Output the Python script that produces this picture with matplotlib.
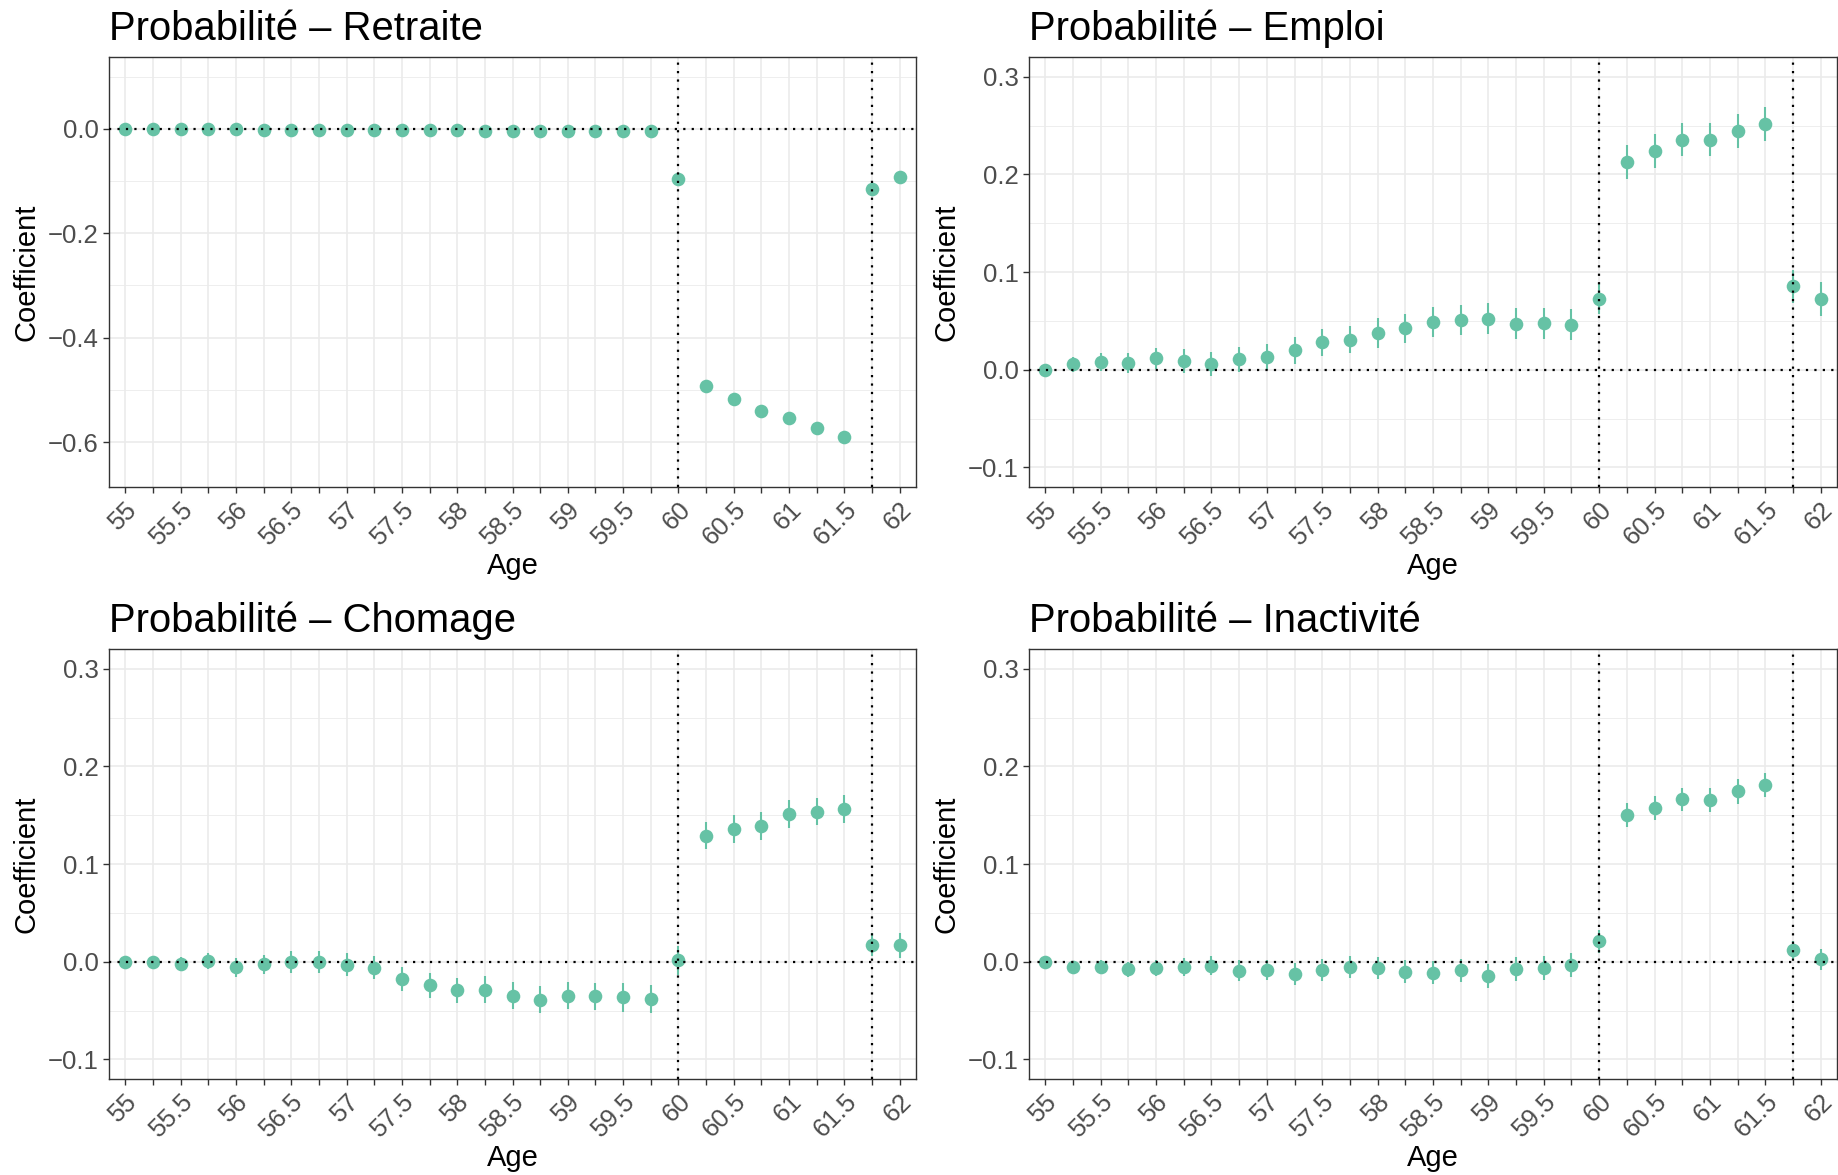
import matplotlib
matplotlib.use("Agg")
import matplotlib.pyplot as plt
import numpy as np

plt.rcParams['font.family'] = ['Liberation Sans', 'DejaVu Sans']

# ---------------- data ----------------
ages = [55.0, 55.25, 55.5, 55.75, 56.0, 56.25, 56.5, 56.75, 57.0, 57.25,
        57.5, 57.75, 58.0, 58.25, 58.5, 58.75, 59.0, 59.25, 59.5, 59.75,
        60.0, 60.25, 60.5, 60.75, 61.0, 61.25, 61.5, 61.75, 62.0]
age_labels = ["55", "", "55.5", "", "56", "", "56.5", "", "57", "", "57.5", "",
              "58", "", "58.5", "", "59", "", "59.5", "", "60", "", "60.5", "",
              "61", "", "61.5", "", "62"]

titles = ["Probabilité – Retraite", "Probabilité – Emploi",
          "Probabilité – Chomage", "Probabilité – Inactivité"]

retraite = [0.0, -0.001, -0.001, -0.001, -0.001, -0.002, -0.002, -0.002, -0.002, -0.002,
            -0.003, -0.003, -0.003, -0.004, -0.004, -0.004, -0.004, -0.004, -0.004, -0.004,
            -0.096, -0.492, -0.518, -0.540, -0.553, -0.573, -0.590, -0.116, -0.092]
retraite_err = [0.0, 0.002, 0.002, 0.002, 0.002, 0.002, 0.002, 0.002, 0.002, 0.002,
                0.002, 0.002, 0.002, 0.002, 0.002, 0.002, 0.002, 0.002, 0.002, 0.002,
                0.005, 0.005, 0.005, 0.005, 0.005, 0.005, 0.005, 0.005, 0.005]

emploi = [0.000, 0.0055, 0.0078, 0.0072, 0.0116, 0.0092, 0.0058, 0.0106, 0.013, 0.020,
          0.028, 0.031, 0.0378, 0.0425, 0.049, 0.051, 0.0525, 0.0472, 0.0476, 0.0461,
          0.073, 0.2128, 0.224, 0.2355, 0.2355, 0.2445, 0.2517, 0.0854, 0.0726]
emploi_err = [0.0, 0.008, 0.009, 0.010, 0.011, 0.012, 0.012, 0.013, 0.013, 0.014,
              0.014, 0.014, 0.015, 0.015, 0.0155, 0.0153, 0.0157, 0.0157, 0.016, 0.016,
              0.0155, 0.017, 0.017, 0.017, 0.017, 0.017, 0.017, 0.017, 0.017]

chomage = [0.0, 0.0, -0.002, 0.001, -0.0058, -0.0027, 0.0, 0.0, -0.003, -0.006,
           -0.0177, -0.0242, -0.0293, -0.0286, -0.0348, -0.0389, -0.0348, -0.0355, -0.0365, -0.0382,
           0.0014, 0.1292, 0.136, 0.139, 0.1514, 0.1538, 0.1565, 0.0177, 0.017]
chomage_err = [0.0, 0.003, 0.007, 0.0085, 0.0094, 0.010, 0.011, 0.0114, 0.0116, 0.012,
               0.0126, 0.013, 0.013, 0.0137, 0.014, 0.014, 0.014, 0.0143, 0.0145, 0.0145,
               0.0145, 0.014, 0.014, 0.014, 0.0143, 0.0141, 0.0143, 0.012, 0.0126]

inactivite = [0.0, -0.0051, -0.0051, -0.0078, -0.0065, -0.0051, -0.0038, -0.0089, -0.0085, -0.0126,
              -0.0082, -0.0055, -0.006, -0.0102, -0.011, -0.0088, -0.0146, -0.0071, -0.0067, -0.0034,
              0.021, 0.150, 0.1577, 0.1663, 0.1659, 0.1745, 0.181, 0.0124, 0.0026]
inactivite_err = [0.0, 0.006, 0.007, 0.008, 0.0085, 0.009, 0.0097, 0.0107, 0.0106, 0.011,
                  0.011, 0.0114, 0.0114, 0.0116, 0.012, 0.012, 0.012, 0.0122, 0.0124, 0.0126,
                  0.012, 0.0122, 0.0122, 0.012, 0.0122, 0.0124, 0.0124, 0.0094, 0.011]

vlines = [60.0, 61.75]

ylims = [(-0.686, 0.137), (-0.12, 0.32), (-0.12, 0.32), (-0.12, 0.32)]
ymajor = [[-0.6, -0.4, -0.2, 0.0], [-0.1, 0.0, 0.1, 0.2, 0.3],
          [-0.1, 0.0, 0.1, 0.2, 0.3], [-0.1, 0.0, 0.1, 0.2, 0.3]]
yminor = [[-0.5, -0.3, -0.1, 0.1], [-0.05, 0.05, 0.15, 0.25],
          [-0.05, 0.05, 0.15, 0.25], [-0.05, 0.05, 0.15, 0.25]]

series = [retraite, emploi, chomage, inactivite]
errors = [retraite_err, emploi_err, chomage_err, inactivite_err]

# ---------------- layout ----------------
W, H = 1838, 1175
fig = plt.figure(figsize=(W / 100, H / 100), dpi=100)

# panel boxes in pixels: left, top, right, bottom
boxes = [(108.6, 57.3, 916.4, 487.0), (1028.7, 57.3, 1837.3, 487.0),
         (108.6, 649.3, 916.4, 1079.0), (1028.7, 649.3, 1837.3, 1079.0)]

COL = "#66C2A5"
GRID = "#EBEBEB"
TXT = "#4D4D4D"
DARK = "#333333"
DOT = (0, (1, 2.8))

for k in range(4):
    l, t, r, b = boxes[k]
    ax = fig.add_axes([l / W, 1 - b / H, (r - l) / W, (b - t) / H])
    vals = series[k]
    errs = errors[k]
    lo = [v - e for v, e in zip(vals, errs)]
    hi = [v + e for v, e in zip(vals, errs)]

    ax.vlines(ages, lo, hi, color=COL, linewidth=1.5, zorder=3)
    ax.plot(ages, vals, 'o', color=COL, markersize=9.8, markeredgewidth=0, zorder=4)

    ax.axhline(0, color='black', linewidth=1.6, linestyle=DOT, zorder=5)
    for xv in vlines:
        ax.axvline(xv, color='black', linewidth=1.6, linestyle=DOT, zorder=5)

    ax.set_xlim(ages[0] - 0.15, ages[-1] + 0.15)
    ax.set_ylim(*ylims[k])

    ax.set_xticks(ages)
    ax.set_xticklabels(age_labels, rotation=45, ha='right', va='top',
                       rotation_mode='anchor', fontsize=18.5, color=TXT)
    ax.set_yticks(ymajor[k])
    ax.set_yticklabels([("%.1f" % v).replace("-", "\u2212") for v in ymajor[k]],
                       fontsize=18.5, color=TXT)
    ax.set_yticks(yminor[k], minor=True)
    ax.tick_params(axis='y', which='minor', length=0)
    ax.tick_params(axis='both', which='major', length=4.2, width=1.0, color=DARK, pad=3)

    ax.set_axisbelow(True)
    ax.grid(True, which='major', axis='both', color=GRID, linewidth=1.2, zorder=0)
    ax.grid(True, which='minor', axis='y', color=GRID, linewidth=0.6, zorder=0)
    for sp in ax.spines.values():
        sp.set_color(DARK)
        sp.set_linewidth(1.0)

    # title
    fig.text(l / W, 1 - (t - 17) / H, titles[k], fontsize=28.8, color='black',
             ha='left', va='baseline')
    # axis titles
    fig.text((l + r) / 2 / W, 1 - (b + 79) / H, "Age", fontsize=21, color='black',
             ha='center', va='center')
    fig.text((l - 82) / W, 1 - (t + b) / 2 / H, "Coefficient", fontsize=21,
             color='black', ha='center', va='center', rotation=90)

fig.savefig("out.png", dpi=100, facecolor='white')
